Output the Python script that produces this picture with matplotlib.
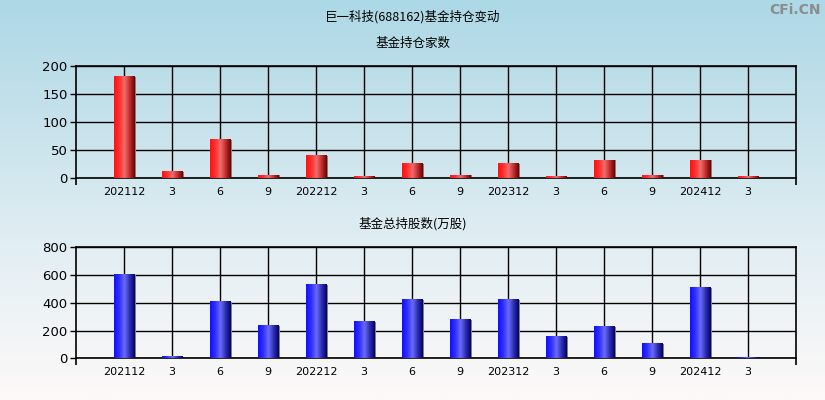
import numpy as np
import matplotlib
matplotlib.use("Agg")
import matplotlib.pyplot as plt
from matplotlib.colors import LinearSegmentedColormap

plt.rcParams['font.family'] = ['Noto Sans CJK SC', 'DejaVu Sans']

# data
periods = ['202112', '3', '6', '9', '202212', '3', '6', '9',
           '202312', '3', '6', '9', '202412', '3']
fund_count = [180, 12, 68, 5, 40, 3, 25, 5, 25, 3, 32, 5, 32, 3]
fund_shares = [600, 8, 408, 233, 528, 262, 420, 276, 420, 154, 226, 103, 507, 6]

title = '巨一科技(688162)基金持仓变动'
sub1 = '基金持仓家数'
sub2 = '基金总持股数(万股)'

red_cmap = LinearSegmentedColormap.from_list(
    'r', ['#ff1010', '#ff3030', '#f46a6a', '#c03030', '#700000'])
blue_cmap = LinearSegmentedColormap.from_list(
    'b', ['#1010ff', '#3030ff', '#6a6aff', '#3030b0', '#000070'])

fig = plt.figure(figsize=(8.25, 4), dpi=100)

# background gradient
bg = fig.add_axes([0, 0, 1, 1], zorder=-10)
grad = np.linspace(0, 1, 256).reshape(-1, 1)
bg_cmap = LinearSegmentedColormap.from_list(
    'bg', ['#add8e6', '#c9e3ec', '#e6f0f4', '#fdf9f8'])
bg.imshow(grad, aspect='auto', cmap=bg_cmap, extent=(0, 1, 0, 1))
bg.axis('off')

fig.text(0.5, 1 - 17 / 400, title, ha='center', va='center', fontsize=9)
fig.text(0.5, 1 - 43 / 400, sub1, ha='center', va='center', fontsize=9)
fig.text(0.5, 1 - 224 / 400, sub2, ha='center', va='center', fontsize=9)
fig.text(821 / 825, 1 - 10 / 400, 'CFi.CN', ha='right', va='center',
         fontsize=10, color='#8c8c8c', fontweight='bold',
         family=['DejaVu Sans'])


def draw_panel(rect, values, ymax, yticks, cmap):
    ax = fig.add_axes(rect)
    ax.set_facecolor('none')
    x = np.arange(1, len(values) + 1)
    w = 0.42
    strip = np.linspace(0, 1, 64).reshape(1, -1)
    for xi, v in zip(x, values):
        # small grey shadow on right side
        ax.bar(xi + 0.03, v, width=w, color='#808080', zorder=2)
        ax.imshow(strip, cmap=cmap, aspect='auto', zorder=3,
                  extent=(xi - w / 2, xi + w / 2, 0, v))
    ax.set_xlim(0, len(values) + 1)
    ax.set_ylim(0, ymax)
    ax.set_xticks(x)
    ax.set_xticklabels(periods, fontsize=8, family=['DejaVu Sans'])
    ax.set_xticks([0, len(values) + 1], minor=True)
    ax.tick_params(axis='x', which='major', length=0, pad=6)
    ax.tick_params(axis='x', which='minor', length=5, width=1.2)
    ax.set_yticks(yticks)
    ax.set_yticklabels([str(t) for t in yticks], fontsize=9.5,
                       family=['DejaVu Sans'])
    ax.tick_params(axis='y', length=4, width=1, pad=2)
    ax.grid(True, color='black', linewidth=1, zorder=1)
    ax.set_axisbelow(True)
    for s in ax.spines.values():
        s.set_color('black')
        s.set_linewidth(1.2)
    return ax


draw_panel([76 / 825, 1 - 178.3 / 400, 720 / 825, 112.3 / 400],
           fund_count, 200, [0, 50, 100, 150, 200], red_cmap)
draw_panel([76 / 825, 1 - 358.3 / 400, 720 / 825, 111 / 400],
           fund_shares, 800, [0, 200, 400, 600, 800], blue_cmap)

fig.savefig('out.png', dpi=100)
